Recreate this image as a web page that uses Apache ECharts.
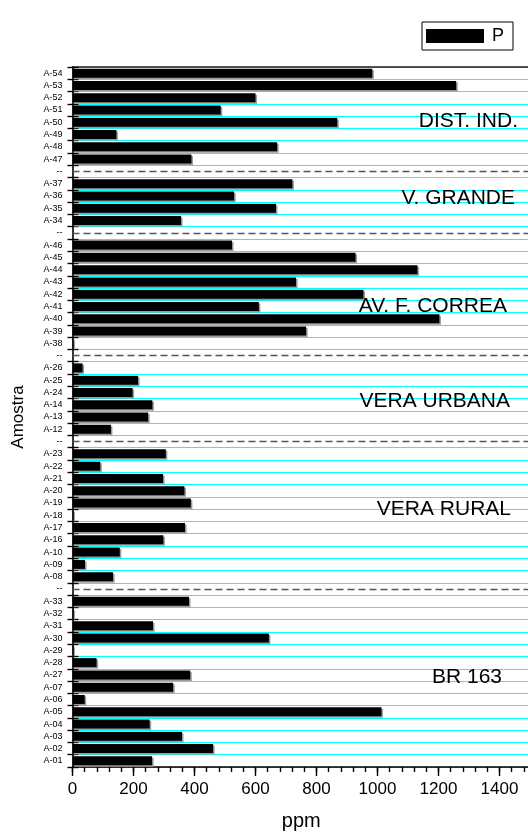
<!DOCTYPE html>
<html><head><meta charset="utf-8">
<script src="https://cdn.jsdelivr.net/npm/echarts@6/dist/echarts.min.js"></script>
<style>html,body{margin:0;padding:0;background:#fff}#c{width:528px;height:834px}</style>
</head><body><div id="c"></div>
<script>
// ---- data ----
const categories = ['A-54','A-53','A-52','A-51','A-50','A-49','A-48','A-47','--',
  'A-37','A-36','A-35','A-34','--',
  'A-46','A-45','A-44','A-43','A-42','A-41','A-40','A-39','A-38','--',
  'A-26','A-25','A-24','A-14','A-13','A-12','--',
  'A-23','A-22','A-21','A-20','A-19','A-18','A-17','A-16','A-10','A-09','A-08','--',
  'A-33','A-32','A-31','A-30','A-29','A-28','A-27','A-07','A-06','A-05','A-04','A-03','A-02','A-01'];
const values = [983,1258,600,486,868,144,671,390,null,
  721,530,667,356,null,
  523,928,1131,733,954,611,1203,766,3,null,
  33,215,197,262,248,126,null,
  306,91,297,367,388,3,369,298,155,41,133,null,
  382,3,264,644,3,79,386,330,40,1013,253,359,461,261];
const xTickLabels = [0,200,400,600,800,1000,1200,1400];
const groupNames = ['DIST. IND.','V. GRANDE','AV. F. CORREA','VERA URBANA','VERA RURAL','BR 163'];
const seriesName = 'P';
const xTitle = 'ppm';
const yTitle = 'Amostra';

// ---- layout (annotation placement, not data) ----
const groupLabelAnchors = [[518,121],[515,198],[507,306],[510,401],[511,509],[502,677]];
const FONT = 'Liberation Sans';

const separatorIdx = categories.map((c,i)=>c==='--'?i:-1).filter(i=>i>=0);

const chart = echarts.init(document.getElementById('c'), null, {renderer:'canvas'});
const tickLine = {color:'#000', width:1.4};
chart.setOption({
  animation:false,
  backgroundColor:'#fff',
  grid:{left:72.5, top:67, width:457.5, height:700, containLabel:false, outerBoundsMode:'none'},
  legend:{
    show:true, data:[seriesName], left:422, top:22, icon:'rect',
    itemWidth:58, itemHeight:14, padding:[5,9,5,4],
    borderColor:'#000', borderWidth:1, borderRadius:0,
    textStyle:{fontSize:18, fontFamily:FONT, color:'#000', padding:[0,0,0,3]}
  },
  xAxis:[
    {type:'value', min:0, max:1500, interval:40, position:'bottom',
     axisLine:{show:true, lineStyle:{color:'#000', width:1.5}},
     axisTick:{show:true, length:5, lineStyle:tickLine},
     axisLabel:{show:false}, splitLine:{show:false}},
    {type:'value', min:0, max:1500, interval:200, position:'bottom',
     axisLine:{show:false},
     axisTick:{show:true, length:9, lineStyle:tickLine},
     axisLabel:{show:true, margin:14, fontSize:17, fontFamily:FONT, color:'#000',
       formatter:v=>xTickLabels.includes(v)?String(v):''},
     splitLine:{show:false},
     name:xTitle, nameLocation:'middle', nameGap:44, nameMoveOverlap:false,
     nameTextStyle:{fontSize:20, fontFamily:FONT, color:'#000'}},
    {type:'value', min:0, max:1500, position:'top',
     axisLine:{show:true, lineStyle:{color:'#222', width:1.5}},
     axisTick:{show:false}, axisLabel:{show:false}, splitLine:{show:false}}
  ],
  yAxis:[
    {type:'category', data:categories, inverse:true, position:'left',
     axisLine:{show:true, lineStyle:{color:'#000', width:1.6}},
     axisTick:{show:true, interval:0, length:5, lineStyle:tickLine},
     axisLabel:{show:true, interval:0, margin:10, fontSize:9, fontFamily:FONT, color:'#000', hideOverlap:false},
     splitLine:{show:true, interval:0, lineStyle:{color:'#00ffff', width:1.2}},
     name:yTitle, nameLocation:'middle', nameGap:46, nameRotate:90, nameMoveOverlap:false,
     nameTextStyle:{fontSize:17, fontFamily:FONT, color:'#000'}},
    {type:'category', data:categories, inverse:true, position:'left',
     axisLine:{show:false},
     axisTick:{show:true, inside:true, interval:0, length:6, lineStyle:tickLine},
     axisLabel:{show:false}, splitLine:{show:false}}
  ],
  series:[{
    name:seriesName, type:'bar', xAxisIndex:0, yAxisIndex:0, data:values,
    barWidth:9,
    itemStyle:{color:'#000', shadowColor:'#9a9a9a', shadowOffsetX:1.5, shadowOffsetY:1.5, shadowBlur:0},
    markLine:{silent:true, symbol:['none','none'], label:{show:false},
      lineStyle:{color:'#555', type:[7,4], width:1.4},
      data:separatorIdx.map(i=>({yAxis:i}))}
  }],
  graphic:groupNames.map((t,i)=>({
    type:'text', x:groupLabelAnchors[i][0], y:groupLabelAnchors[i][1], z:100,
    style:{text:t, align:'right', verticalAlign:'middle', fontSize:21, fontFamily:FONT, fill:'#000'}
  }))
});
</script></body></html>
